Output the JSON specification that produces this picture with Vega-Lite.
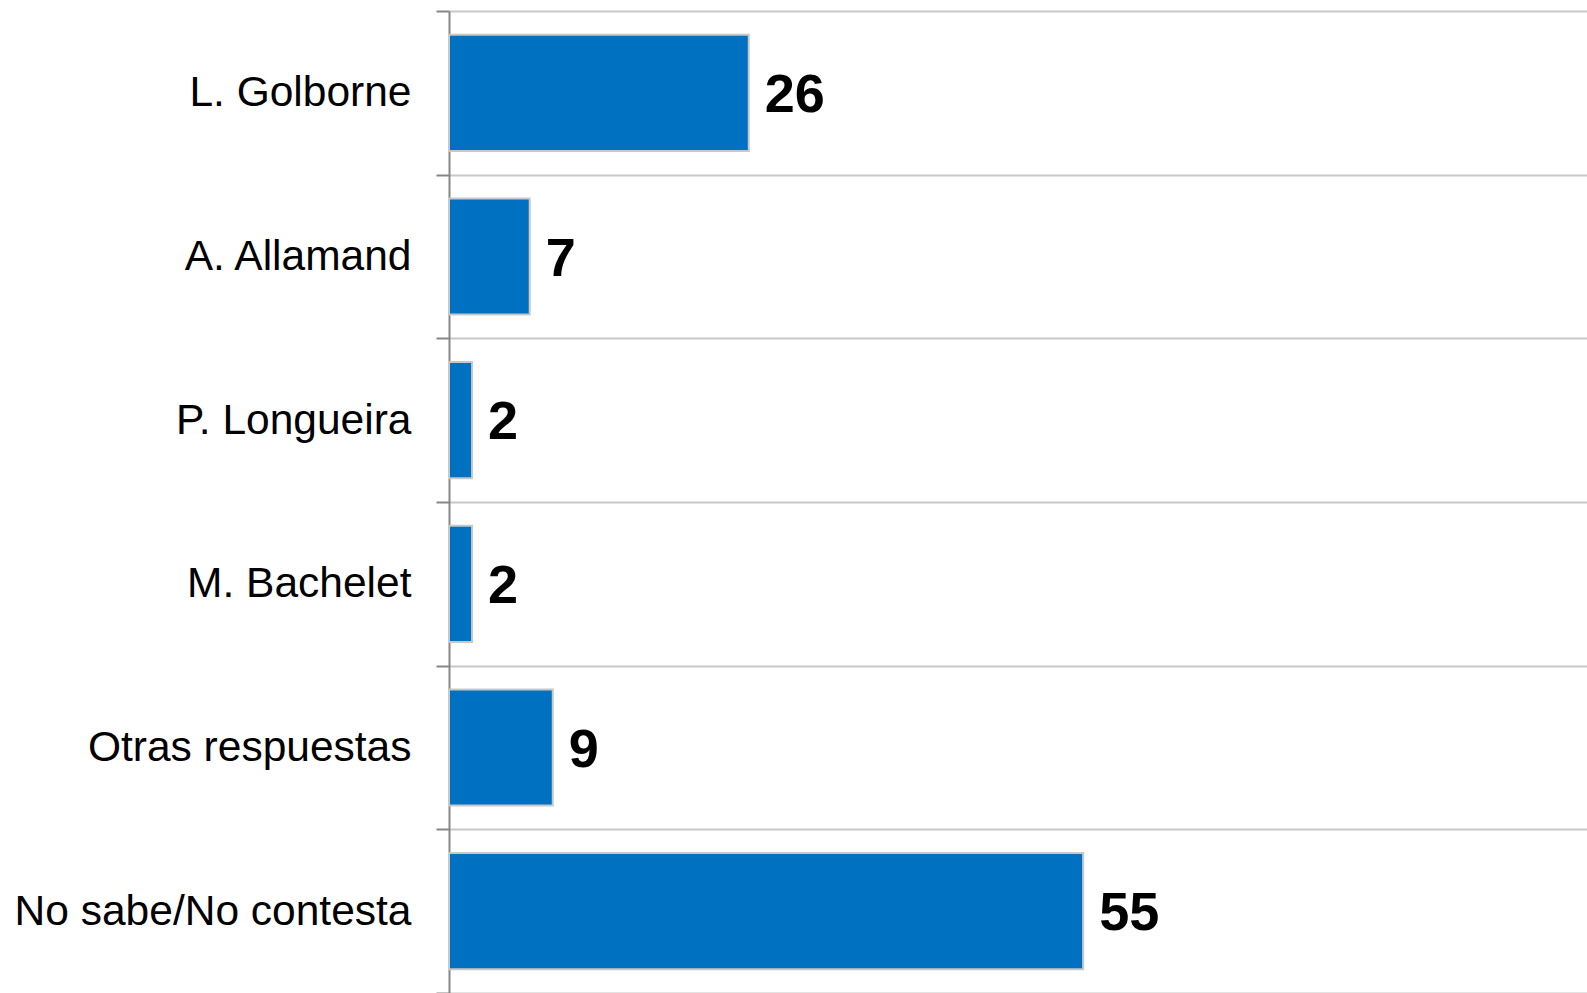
{
  "$schema": "https://vega.github.io/schema/vega-lite/v6.json",
  "width": 1138,
  "height": 982,
  "autosize": {"type": "none"},
  "padding": {"left": 449, "top": 11, "right": 0, "bottom": 0},
  "background": "white",
  "config": {"view": {"stroke": null}},
  "data": {
    "values": [
      {"candidato": "L. Golborne", "valor": 26},
      {"candidato": "A. Allamand", "valor": 7},
      {"candidato": "P. Longueira", "valor": 2},
      {"candidato": "M. Bachelet", "valor": 2},
      {"candidato": "Otras respuestas", "valor": 9},
      {"candidato": "No sabe/No contesta", "valor": 55}
    ]
  },
  "encoding": {
    "y": {
      "field": "candidato",
      "type": "nominal",
      "sort": null,
      "scale": {"paddingInner": 0, "paddingOuter": 0},
      "axis": {
        "title": null,
        "grid": true,
        "tickBand": "extent",
        "gridColor": "#c8c8c8",
        "gridWidth": 2,
        "domainColor": "#868686",
        "domainWidth": 2,
        "tickColor": "#868686",
        "tickWidth": 2,
        "tickSize": 13,
        "labelFont": "Liberation Sans",
        "labelFontSize": 42.5,
        "labelColor": "#000000",
        "labelPadding": 25,
        "labelLimit": 0
      }
    },
    "x": {
      "field": "valor",
      "type": "quantitative",
      "scale": {"domain": [0, 98.7]},
      "axis": null
    }
  },
  "layer": [
    {
      "mark": {
        "type": "bar",
        "height": {"band": 0.71},
        "color": "#0070C0",
        "stroke": "#c8c8c8",
        "strokeWidth": 2
      }
    },
    {
      "mark": {
        "type": "text",
        "align": "left",
        "baseline": "middle",
        "dx": 16,
        "dy": 3,
        "font": "Liberation Sans",
        "fontSize": 54,
        "fontWeight": "bold",
        "color": "#000000"
      },
      "encoding": {"text": {"field": "valor", "type": "quantitative"}}
    }
  ]
}
